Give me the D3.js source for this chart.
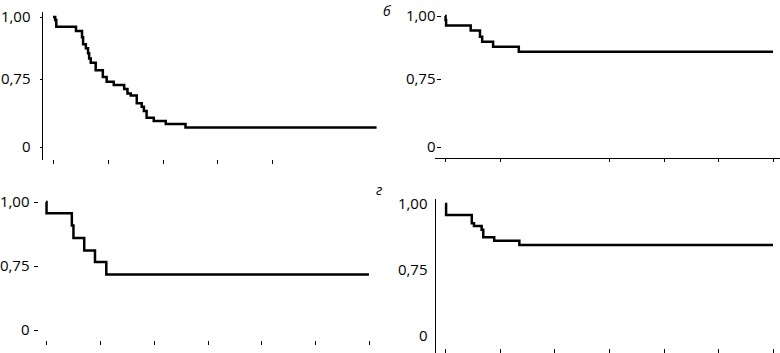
<!DOCTYPE html>
<html>
<head>
<meta charset="utf-8">
<script src="https://cdn.jsdelivr.net/npm/d3@7"></script>
<style>
  body { margin: 0; background: #fff; }
  svg { display: block; }
  .curve { fill: none; stroke: #000; stroke-width: 2.5; }
  .axis text { font-family: "Open Sans", sans-serif; font-size: 15px; fill: #000; }
  .axis line, .axis path, .frame { stroke: #000; stroke-width: 1; shape-rendering: crispEdges; }
  .letter { font-family: "Open Sans", sans-serif; font-size: 14px; font-style: italic; }
</style>
</head>
<body>
<div id="chart"></div>
<script>
var width = 780, height = 353;

// y tick values and their labels (same for all four panels)
var yTicks = [1, 0.75, 0];
var yLabels = ["1,00", "0,75", "0"];

// panel а (top left)
var timesA = [0, 0.04, 0.06, 0.42, 0.53, 0.55, 0.60, 0.64, 0.66, 0.69, 0.78, 0.91, 0.98,
              1.11, 1.30, 1.36, 1.42, 1.53, 1.62, 1.66, 1.71, 1.84, 2.06, 2.42, 5.91];
var survA  = [1, 0.988, 0.961, 0.944, 0.918, 0.890, 0.874, 0.854, 0.833, 0.816, 0.785, 0.758, 0.739,
              0.726, 0.710, 0.692, 0.683, 0.652, 0.638, 0.621, 0.594, 0.581, 0.569, 0.554, 0.554];
var xTicksA = [0, 1, 2, 3, 4];

// panel б (top right)
var timesB = [0, 0.01, 0.02, 0.47, 0.64, 0.68, 0.88, 1.35, 6];
var survB  = [1, 0.984, 0.962, 0.942, 0.918, 0.898, 0.878, 0.858, 0.858];
var xTicksB = [0, 1, 3, 4, 5, 6];

// panel в (bottom left)
var timesC = [0, 0.01, 0.48, 0.51, 0.71, 0.91, 1.12, 6];
var survC  = [1, 0.956, 0.908, 0.859, 0.811, 0.766, 0.717, 0.717];
var xTicksC = [0, 1, 2, 3, 4, 5, 6];

// panel г (bottom right)
var timesD = [0, 0.02, 0.49, 0.53, 0.67, 0.70, 0.90, 1.36, 6];
var survD  = [1, 0.958, 0.927, 0.917, 0.902, 0.874, 0.861, 0.845, 0.845];
var xTicksD = [0, 1, 2, 3, 4, 5, 6];

var svg = d3.select("#chart").append("svg")
    .attr("width", width)
    .attr("height", height);

/* layout of each panel: pixel anchors for t=0, t=6 and y = 0 / 0.75 / 1 */
var panels = [
  {times: timesA, surv: survA, xTicks: xTicksA, x0: 53, x6: 381.5, y0: 147, y75: 79, y100: 17,
   yAxisX: 43, yTick: 3, yPad: 9, yLine: [12, 160], xTickY: 160, xLine: null},
  {times: timesB, surv: survB, xTicks: xTicksB, x0: 445, x6: 773, y0: 147, y75: 79, y100: 16,
   yAxisX: 441, yTick: 4, yPad: 1, yLine: null, xTickY: 158, xLine: [435, 780], letter: "б", lx: 383, ly: 16},
  {times: timesC, surv: survC, xTicks: xTicksC, x0: 46, x6: 369, y0: 330, y75: 266, y100: 202,
   yAxisX: 38, yTick: 4, yPad: 4, yLine: null, xTickY: 341, xLine: null, letter: "г", lx: 376, ly: 195},
  {times: timesD, surv: survD, xTicks: xTicksD, x0: 445, x6: 773, y0: 336, y75: 270, y100: 204,
   yAxisX: 436, yTick: 0, yPad: 8, yLine: [199, 353], xTickY: 349, xLine: null}
];

panels.forEach(function(p) {
  var g = svg.append("g");

  var x = d3.scaleLinear().domain([0, 6]).range([p.x0, p.x6]);
  // broken axis: 1.00 -> 0.75 keeps its own step, the rest is squeezed down to 0
  var y = d3.scaleLinear()
            .domain([0, 0.5, 1])
            .range([p.y0, p.y75 + (p.y75 - p.y100), p.y100]);

  var yAxis = d3.axisLeft(y)
                .tickValues(yTicks)
                .tickFormat(function(d, i) { return yLabels[i]; })
                .tickSize(p.yTick)
                .tickPadding(p.yPad);
  var ya = g.append("g")
            .attr("class", "axis")
            .attr("transform", "translate(" + (p.yAxisX - 0.5) + ",0)")
            .call(yAxis);
  ya.select(".domain").remove();

  if (p.yLine) {
    g.append("line").attr("class", "frame")
     .attr("x1", p.yAxisX - 0.5).attr("x2", p.yAxisX - 0.5)
     .attr("y1", p.yLine[0]).attr("y2", p.yLine[1]);
  }

  var xAxis = d3.axisBottom(x)
                .tickValues(p.xTicks)
                .tickFormat("")
                .tickSize(4);
  var xa = g.append("g")
            .attr("class", "axis")
            .attr("transform", "translate(0," + p.xTickY + ")")
            .call(xAxis);
  xa.select(".domain").remove();

  if (p.xLine) {
    g.append("line").attr("class", "frame")
     .attr("x1", p.xLine[0]).attr("x2", p.xLine[1])
     .attr("y1", p.xTickY + 0.5).attr("y2", p.xTickY + 0.5);
  }

  var pts = p.times.map(function(t, i) { return [t, p.surv[i]]; });
  var line = d3.line()
               .x(function(d) { return x(d[0]); })
               .y(function(d) { return y(d[1]); })
               .curve(d3.curveStepAfter);
  g.append("path")
   .datum(pts)
   .attr("class", "curve")
   .attr("d", line);

  if (p.letter) {
    g.append("text").attr("class", "letter")
     .attr("x", p.lx).attr("y", p.ly)
     .text(p.letter);
  }
});
</script>
</body>
</html>
